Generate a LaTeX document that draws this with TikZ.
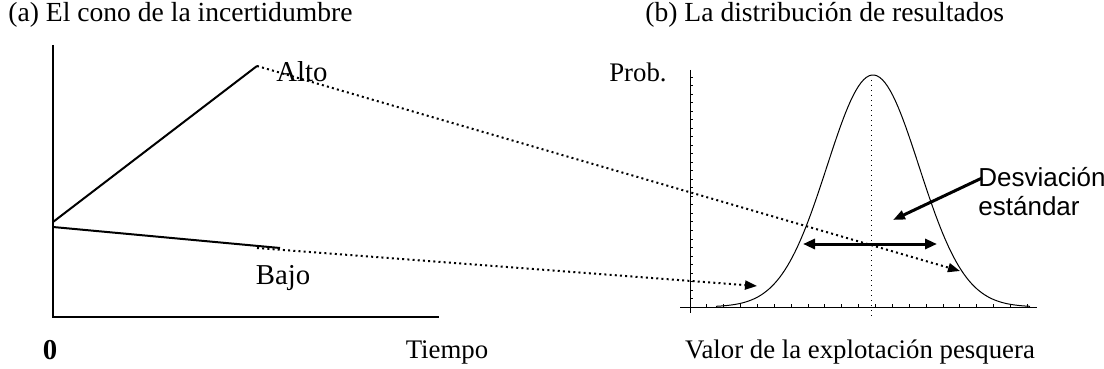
\documentclass[tikz,border=0pt]{standalone}
\usepackage{fontspec}
\setmainfont{Liberation Serif}
\setsansfont{Liberation Sans}
\usetikzlibrary{arrows.meta,positioning}
\tikzset{
  eje/.style={line width=1pt,black},
  cono/.style={line width=1pt,black},
  curva/.style={line width=0.5pt,black},
  punteada/.style={line width=1pt,dash pattern=on 1pt off 1.6pt},
  flecha/.style={-{Triangle[length=6pt,width=4.5pt]}},
  titulo/.style={font=\fontsize{13.8}{15}\selectfont,inner sep=0pt},
  etiqueta/.style={font=\fontsize{14.4}{16}\selectfont,inner sep=0pt},
  rotulo/.style={font=\fontsize{13.4}{15}\selectfont,inner sep=0pt},
  nota/.style={font=\sffamily\fontsize{13}{14.5}\selectfont,align=left,inner sep=0pt}
}
\begin{document}
\begin{tikzpicture}[x=0.5pt,y=-0.5pt]
\useasboundingbox (0,0) rectangle (1104,369);
% titulos
\node[titulo,anchor=west] (ta) at (8,15) {(a) El cono de la incertidumbre};
\node[titulo,anchor=west] (tb) at (645,15) {(b) La distribución de resultados};
% panel (a)
\coordinate (oa) at (53,317);
\coordinate (ya) at (53,45);
\coordinate (xa) at (439,317);
\draw[eje] (ya) -- (oa) -- (xa);
\coordinate (sa) at (53,222);
\coordinate (sb) at (53,227);
\coordinate (alto) at (257,66);
\coordinate (bajo) at (280,248);
\coordinate (bajop) at (257,248);
\draw[cono] (sa) -- (alto);
\draw[cono] (sb) -- (bajo);
\node[etiqueta] (lalto) at (302,72) {Alto};
\node[etiqueta] (lbajo) at (283,278) {Bajo};
\node[etiqueta,font=\bfseries\fontsize{14.4}{16}\selectfont] (cero) at (50,350) {0};
\node[rotulo] (tiempo) at (447,352) {Tiempo};
% panel (b)
\coordinate (ob) at (690,307);
\coordinate (yb) at (690,70);
\coordinate (xb0) at (680,307);
\coordinate (xb) at (1037,307);
\draw[curva] (yb) -- (690,313);
\draw[curva] (xb0) -- (xb);
\foreach \i in {1,...,27}
  \draw[curva] (690,{307-8.5*\i}) -- ++(3,0);
\foreach \i in {1,...,20}
  \draw[curva] ({690+16.87*\i},307) -- ++(0,-3);
\draw[curva,dotted] (871,80) -- (871,318);
\draw[curva,domain=716:1030,samples=120]
  plot (\x,{307-232*exp(-((\x-873)/46)^2/2)});
\node[rotulo] (prob) at (638,72) {Prob.};
\node[rotulo] (valor) at (860,352) {Valor de la explotación pesquera};
% desviacion estandar
\coordinate (di) at (803,244);
\coordinate (dd) at (937,244);
\draw[line width=1.5pt,{Triangle[length=6pt,width=5pt]}-{Triangle[length=6pt,width=5pt]}] (di) -- (dd);
\node[nota,anchor=west] (desv) at (978,192) {Desviación\\estándar};
\coordinate (dp) at (893,220);
\draw[line width=1.5pt,flecha] (982,178) -- (dp);
% proyecciones
\coordinate (pa) at (960,271);
\coordinate (pb) at (757,286);
\draw[punteada,flecha] (alto) -- (pa);
\draw[punteada,flecha] (bajop) -- (pb);
\end{tikzpicture}
\end{document}
